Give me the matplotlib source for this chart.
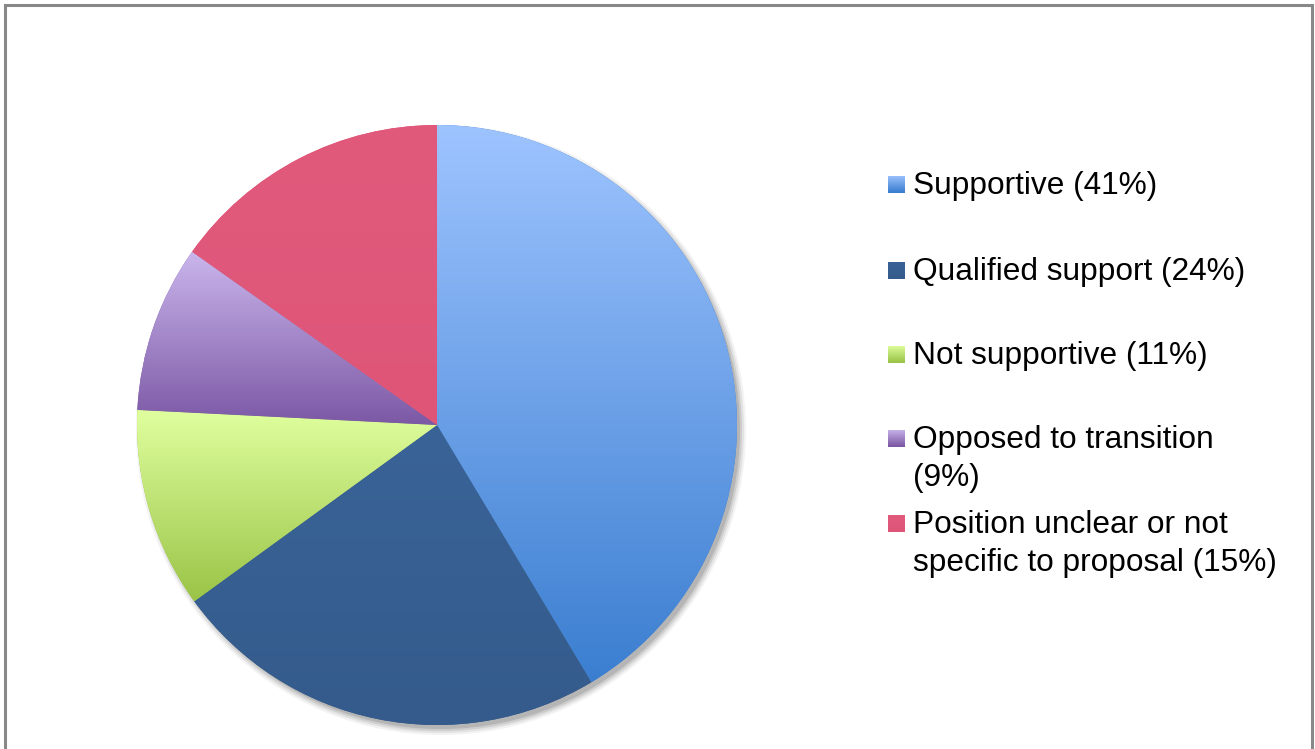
import numpy as np
import matplotlib.pyplot as plt
from matplotlib.colors import LinearSegmentedColormap
from matplotlib.patches import Circle, Rectangle

plt.rcParams['font.family'] = ['Liberation Sans', 'DejaVu Sans']

labels = ["Supportive (41%)", "Qualified support (24%)", "Not supportive (11%)",
          "Opposed to transition\n(9%)", "Position unclear or not\nspecific to proposal (15%)"]
shares = [41.4, 23.6, 10.8, 9.0, 15.2]
# top colour and bottom colour of each slice gradient
tops = ["#9EC4FF", "#3A6398", "#E0FF9F", "#CAB6EC", "#E15A7C"]
bottoms = ["#3B7ED0", "#345B8B", "#9AC447", "#7C58A5", "#DE5578"]

W, H = 1315, 749
fig = plt.figure(figsize=(W / 100, H / 100), dpi=100)
ax = fig.add_axes([0, 0, 1, 1])

cx, cy, r = 437, H - 425, 300

# soft shadow
for dr, a in [(5, 0.07), (3, 0.1), (1, 0.15), (-1, 0.2)]:
    ax.add_patch(Circle((cx + 4, cy - 5), r + dr, color='#555555', alpha=a, lw=0, zorder=1))

wedges, _ = ax.pie(shares, center=(cx, cy), radius=r, startangle=90, counterclock=False,
                   colors=bottoms, wedgeprops=dict(linewidth=0), frame=True)

grad = np.linspace(0, 1, 256).reshape(-1, 1)

def gradient_fill(patch, top, bottom, extent, z):
    cmap = LinearSegmentedColormap.from_list('g', [bottom, top])
    im = ax.imshow(grad, cmap=cmap, extent=extent, origin='lower', aspect='auto',
                   interpolation='bilinear', zorder=z)
    im.set_clip_path(patch)

for w, t, b in zip(wedges, tops, bottoms):
    w.set_zorder(2)
    bb = w.get_path().get_extents(w.get_patch_transform())
    gradient_fill(w, t, b, [bb.x0, bb.x1, bb.y0, bb.y1], 2.5)

# legend
ys = [184, 270, 354, 438, 523]
for lab, t, b, y in zip(labels, tops, bottoms, ys):
    sq = Rectangle((888, H - y - 8.5), 17, 17, facecolor=b, lw=0, zorder=3)
    ax.add_patch(sq)
    gradient_fill(sq, t, b, [888, 905, H - y - 8.5, H - y + 8.5], 3.5)
    ax.text(913, H - y + 13, lab, fontsize=22.8, va='top', ha='left',
            color='black', linespacing=1.34)

ax.set_xlim(0, W)
ax.set_ylim(0, H)
ax.set_aspect('equal')
ax.axis('off')

# outer border
ax.plot([5, 5, 1312, 1312], [0, H - 5, H - 5, 0], color='#888888', lw=2.2, zorder=5,
        solid_joinstyle='miter')

fig.savefig('out.png', dpi=100)
